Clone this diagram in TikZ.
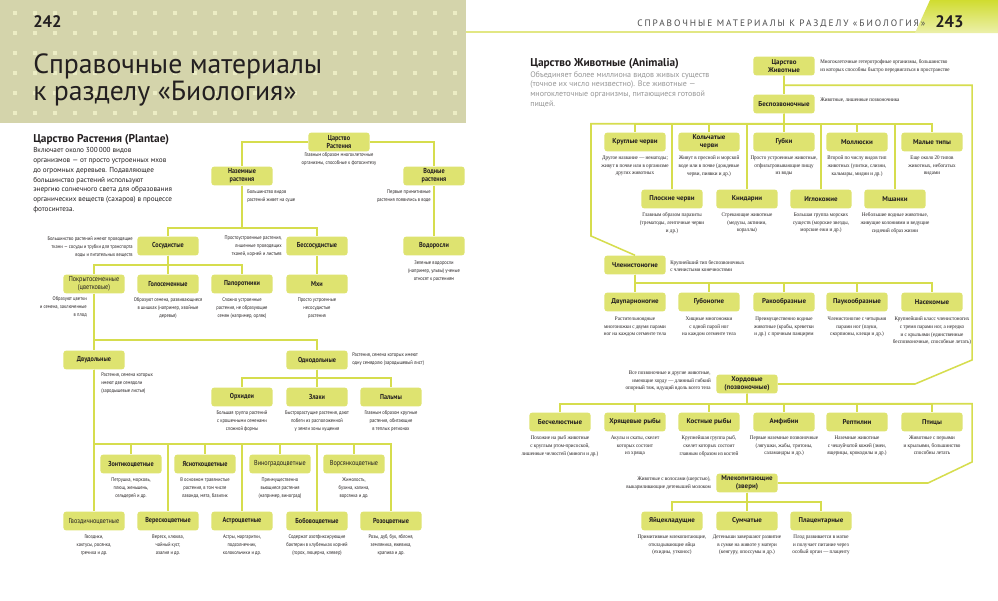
\documentclass[tikz,border=0pt]{standalone}
\usepackage{fontspec}
\setmainfont{PT Sans}
\newfontfamily\narrowsans[FakeStretch=0.86]{PT Sans}
\newfontfamily\narrowserif[FakeStretch=0.92]{Liberation Serif}
\newfontfamily\wideheader[LetterSpace=21]{PT Sans}
\definecolor{hdr}{RGB}{212,212,171}
\definecolor{dotc}{RGB}{236,237,196}
\definecolor{boxc}{RGB}{222,227,112}
\definecolor{linec}{RGB}{214,221,78}
\definecolor{txt}{RGB}{35,31,32}
\definecolor{grayt}{RGB}{150,150,150}
\definecolor{tabtop}{RGB}{208,220,48}
\definecolor{tabbot}{RGB}{236,240,170}
\tikzset{
  bx/.style={rounded corners=2.3pt, fill=boxc, minimum width=46pt, minimum height=14.2pt, inner sep=0.5pt, align=center, text=txt, font=\bfseries\fontsize{5.2}{6.1}\selectfont},
  pb/.style={bx, font=\narrowsans\bfseries\fontsize{5.4}{6.1}\selectfont},
  pbl/.style={bx, font=\narrowsans\fontsize{5.4}{6.1}\selectfont},
  ds/.style={inner sep=0pt, align=center, text=txt, font=\narrowsans\fontsize{3.95}{5.9}\selectfont},
  dr/.style={inner sep=0pt, align=center, text=txt, font=\narrowserif\fontsize{4.15}{5.8}\selectfont},
  ln/.style={draw=linec, line width=1.15pt},
}
\begin{document}
\begin{tikzpicture}[x=0.75pt,y=-0.75pt]
\useasboundingbox (0,0) rectangle (998,600);
\fill[white] (0,0) rectangle (998,600);
% ---------- header left
\fill[hdr] (0,0) rectangle (466,123);
\foreach \i in {0,...,22} \foreach \j in {0,...,5}
  \fill[dotc] ({15+20*\i-2},{13+20*\j-2}) rectangle ++(4,4);
\node[anchor=base west, inner sep=0, font=\bfseries\fontsize{12.5}{14}\selectfont, text=txt] (p242) at (33,27) {242};
\node[anchor=base west, inner sep=0, font=\fontsize{20.8}{24}\selectfont, text=txt] (t1) at (33,73) {Справочные материалы};
\node[anchor=base west, inner sep=0, font=\fontsize{20.8}{24}\selectfont, text=txt] (t2) at (33,100) {к разделу «Биология»};
% ---------- header right
\draw[linec!70, line width=0.8pt] (466,32) -- (918,32);
\shade[top color=tabtop, bottom color=tabbot] (930,0) -- (998,0) -- (998,33) -- (915,33) -- cycle;
\node[anchor=base west, inner sep=0, font=\wideheader\fontsize{7}{8}\selectfont, text=black!70] (hdrtxt) at (637,26.5) {СПРАВОЧНЫЕ МАТЕРИАЛЫ К РАЗДЕЛУ «БИОЛОГИЯ»};
\node[anchor=base west, inner sep=0, font=\bfseries\fontsize{12.5}{14}\selectfont, text=txt] (p243) at (935,27) {243};
% ---------- left intro
\node[anchor=base west, inner sep=0, font=\bfseries\fontsize{8.5}{10}\selectfont, text=txt] (ptitle) at (33,142) {Царство Растения (Plantae)};
\node[anchor=north west, inner sep=0, align=left, font=\fontsize{5.4}{7.3}\selectfont, text=txt] (ptxt) at (33,147.5) {Включает около 300\,000 видов\\организмов — от просто устроенных мхов\\до огромных деревьев. Подавляющее\\большинство растений используют\\энергию солнечного света для образования\\органических веществ (сахаров) в процессе\\фотосинтеза.};
% ---------- right intro
\node[anchor=base west, inner sep=0, font=\bfseries\fontsize{8.5}{10}\selectfont, text=txt] (atitle) at (530,66) {Царство Животные (Animalia)};
\node[anchor=north west, inner sep=0, align=left, font=\fontsize{6}{7.3}\selectfont, text=grayt] (atxt) at (530,71) {Объединяет более миллиона видов живых существ\\(точное их число неизвестно). Все животные —\\многоклеточные организмы, питающиеся готовой\\пищей.};
% ---------- plant boxes
\node[pb] (tsr) at (339,142) {Царство\\Растения};
\node[pb] (naz) at (242,176) {Наземные\\растения};
\node[pb] (vod) at (434,176) {Водные\\растения};
\node[pb] (alg) at (434,246) {Водоросли};
\node[pb] (sos) at (168,246) {Сосудистые};
\node[pb] (bess) at (317,246) {Бессосудистые};
\node[pb] (mhi) at (317,284) {Мхи};
\node[pbl] (pokr) at (94,284) {Покрытосеменные\\(цветковые)};
\node[pb] (gol) at (168,284) {Голосеменные};
\node[pb] (pap) at (242,284) {Папоротники};
\node[pb] (dvu) at (94,360) {Двудольные};
\node[pb] (odn) at (317,360) {Однодольные};
\node[pb] (orh) at (242,397) {Орхидеи};
\node[pb] (zlak) at (317,397) {Злаки};
\node[pb] (palm) at (391,397) {Пальмы};
\node[pb] (zont) at (131,464) {Зонтикоцветные};
\node[pb] (yasn) at (205,464) {Ясноткоцветные};
\node[pbl] (vin) at (280,464) {Виноградоцветные};
\node[pbl] (vors) at (354,464) {Ворсянкоцветные};
\node[pbl] (gvoz) at (94,521) {Гвоздичноцветные};
\node[pb] (ver) at (168,521) {Верескоцветные};
\node[pb] (astr) at (242,521) {Астроцветные};
\node[pb] (bob) at (317,521) {Бобовоцветные};
\node[pb] (roz) at (391,521) {Розоцветные};
% plant texts
\node[ds, anchor=north] (d-tsr) at (339,152.5) {Главным образом многоклеточные\\организмы, способные к фотосинтезу};
\node[ds, anchor=north west, align=left] (d-naz) at (247,189.5) {Большинство видов\\растений живет на суше};
\node[ds, anchor=north east, align=right] (d-vod) at (431,189.5) {Первые примитивные\\растения появились в воде};
\node[ds, anchor=north] (d-alg) at (434,260.5) {Зеленые водоросли\\(например, ульвы) ученые\\относят к растениям};
\node[ds, anchor=east, align=right] (d-sos) at (133,247) {Большинство растений имеют проводящие\\ткани — сосуды и трубки для транспорта\\воды и питательных веществ};
\node[ds, anchor=east, align=right] (d-bess) at (282,246) {Простоустроенные растения,\\лишенные проводящих\\тканей, корней и листьев};
\node[ds, anchor=north] (d-mhi) at (317,297.5) {Просто устроенные\\несосудистые\\растения};
\node[ds, anchor=north east, align=right] (d-pokr) at (87,296.5) {Образуют цветки\\и семена, заключенные\\в плод};
\node[ds, anchor=north] (d-gol) at (168,297.5) {Образуют семена, развивающиеся\\в шишках (например, хвойные\\деревья)};
\node[ds, anchor=north] (d-pap) at (242,297.5) {Сложно устроенные\\растения, не образующие\\семян (например, орляк)};
\node[ds, anchor=north west, align=left] (d-dvu) at (101,372.5) {Растения, семена которых\\имеют две семядоли\\(зародышевые листья)};
\node[ds, anchor=west, align=left] (d-odn) at (352,359.5) {Растения, семена которых имеют\\одну семядолю (зародышевый лист)};
\node[ds, anchor=north] (d-orh) at (242,410.5) {Большая группа растений\\с крошечными семенами\\сложной формы};
\node[ds, anchor=north] (d-zlak) at (317,410.5) {Быстрорастущие растения, дают\\побеги из расположенной\\у земли зоны кущения};
\node[ds, anchor=north] (d-palm) at (391,410.5) {Главным образом крупные\\растения, обитающие\\в теплых регионах};
\node[ds, anchor=north] (d-zont) at (131,477.5) {Петрушка, морковь,\\плющ, женьшень,\\сельдерей и др.};
\node[ds, anchor=north] (d-yasn) at (205,477.5) {В основном травянистые\\растения, в том числе\\лаванда, мята, базилик};
\node[ds, anchor=north] (d-vin) at (280,477.5) {Преимущественно\\вьющиеся растения\\(например, виноград)};
\node[ds, anchor=north] (d-vors) at (354,477.5) {Жимолость,\\бузина, калина,\\ворсянка и др.};
\node[ds, anchor=north] (d-gvoz) at (94,534.5) {Гвоздики,\\кактусы, росянка,\\гречиха и др.};
\node[ds, anchor=north] (d-ver) at (168,534.5) {Вереск, клюква,\\чайный куст,\\азалия и др.};
\node[ds, anchor=north] (d-astr) at (242,534.5) {Астры, маргаритки,\\подсолнечник,\\колокольчики и др.};
\node[ds, anchor=north] (d-bob) at (317,534.5) {Содержат азотфиксирующие\\бактерии в клубеньках корней\\(горох, люцерна, клевер)};
\node[ds, anchor=north] (d-roz) at (391,534.5) {Розы, дуб, бук, яблоня,\\земляника, ежевика,\\крапива и др.};
% plant connectors
\draw[ln] (tsr.west) -| (naz.north);
\draw[ln] (tsr.east) -| (vod.north);
\draw[ln] (vod.south) -- (alg.north);
\draw[ln] (naz.south) -- ++(0,42) -| (sos.north);
\draw[ln] (naz.south) -- ++(0,42) -| (bess.north);
\draw[ln] (bess.south) -- (mhi.north);
\draw[ln] (sos.south) -- ++(0,9) -| (pokr.north);
\draw[ln] (sos.south) -- (gol.north);
\draw[ln] (sos.south) -- ++(0,9) -| (pap.north);
\draw[ln] (pokr.south) -- (dvu.north);
\draw[ln] (pokr.south) -- ++(0,46) -| (odn.north);
\draw[ln] (odn.south) -- ++(0,8) -| (orh.north);
\draw[ln] (odn.south) -- (zlak.north);
\draw[ln] (odn.south) -- ++(0,8) -| (palm.north);
\draw[ln] (dvu.south) -- (gvoz.north);
\foreach \c in {zont,yasn,vin,vors,ver,astr,bob,roz}
  \draw[ln] (dvu.south) -- ++(0,74) -| (\c.north);
% ---------- animal boxes
\node[bx] (zh) at (784,66) {Царство\\Животные};
\node[bx] (bes) at (784,104) {Беспозвоночные};
\node[bx] (krug) at (635,142) {Круглые черви};
\node[bx] (kol) at (709,142) {Кольчатые\\черви};
\node[bx] (gub) at (784,142) {Губки};
\node[bx] (mol) at (857,142) {Моллюски};
\node[bx] (mal) at (932,142) {Малые типы};
\node[bx] (plos) at (672,199) {Плоские черви};
\node[bx] (knid) at (747,199) {Книдарии};
\node[bx] (igl) at (821,199) {Иглокожие};
\node[bx] (msh) at (895,199) {Мшанки};
\node[bx] (chl) at (635,265) {Членистоногие};
\node[bx] (dvup) at (635,302) {Двупарноногие};
\node[bx] (gubn) at (709,302) {Губоногие};
\node[bx] (rak) at (784,302) {Ракообразные};
\node[bx] (pauk) at (857,302) {Паукообразные};
\node[bx] (nas) at (932,302) {Насекомые};
\node[bx] (hord) at (747,384) {Хордовые\\(позвоночные)};
\node[bx] (besch) at (560,422) {Бесчелюстные};
\node[bx] (hrya) at (635,422) {Хрящевые рыбы};
\node[bx] (kost) at (709,422) {Костные рыбы};
\node[bx] (amf) at (784,422) {Амфибии};
\node[bx] (rept) at (857,422) {Рептилии};
\node[bx] (ptic) at (932,422) {Птицы};
\node[bx] (mlek) at (747,483) {Млекопитающие\\(звери)};
\node[bx] (yai) at (672,521) {Яйцекладущие};
\node[bx] (sum) at (747,521) {Сумчатые};
\node[bx] (plac) at (821,521) {Плацентарные};
% animal texts
\node[dr, anchor=west, align=left] (d-zh) at (820,66) {Многоклеточные гетеротрофные организмы, большинство\\из которых способны быстро передвигаться в пространстве};
\node[dr, anchor=west, align=left] (d-bes) at (820,100) {Животные, лишенные позвоночника};
\node[dr, anchor=north] (d-krug) at (635,155.5) {Другое название — нематоды;\\живут в почве или в организме\\других животных};
\node[dr, anchor=north] (d-kol) at (709,155.5) {Живут в пресной и морской\\воде или в почве (дождевые\\черви, пиявки и др.)};
\node[dr, anchor=north] (d-gub) at (784,155.5) {Просто устроенные животные,\\отфильтровывающие пищу\\из воды};
\node[dr, anchor=north] (d-mol) at (857,155.5) {Второй по числу видов тип\\животных (улитки, слизни,\\кальмары, мидии и др.)};
\node[dr, anchor=north] (d-mal) at (932,155.5) {Еще около 20 типов\\животных, небогатых\\видами};
\node[dr, anchor=north] (d-plos) at (672,212.5) {Главным образом паразиты\\(трематоды, ленточные черви\\и др.)};
\node[dr, anchor=north] (d-knid) at (747,212.5) {Стрекающие животные\\(медузы, актинии,\\кораллы)};
\node[dr, anchor=north] (d-igl) at (821,212.5) {Большая группа морских\\существ (морские звезды,\\морские ежи и др.)};
\node[dr, anchor=north] (d-msh) at (895,212.5) {Небольшие водные животные,\\живущие колониями и ведущие\\сидячий образ жизни};
\node[dr, anchor=west, align=left] (d-chl) at (670,266) {Крупнейший тип беспозвоночных\\с членистыми конечностями};
\node[dr, anchor=north] (d-dvup) at (635,316.5) {Растительноядные\\многоножки с двумя парами\\ног на каждом сегменте тела};
\node[dr, anchor=north] (d-gubn) at (709,316.5) {Хищные многоножки\\с одной парой ног\\на каждом сегменте тела};
\node[dr, anchor=north] (d-rak) at (784,316.5) {Преимущественно водные\\животные (крабы, креветки\\и др.) с прочным панцирем};
\node[dr, anchor=north] (d-pauk) at (857,316.5) {Членистоногие с четырьмя\\парами ног (пауки,\\скорпионы, клещи и др.)};
\node[dr, anchor=north] (d-nas) at (932,316.5) {Крупнейший класс членистоногих\\с тремя парами ног, а нередко\\и с крыльями (единственные\\беспозвоночные, способные летать)};
\node[dr, anchor=east, align=right] (d-hord) at (711,381) {Все позвоночные и другие животные,\\имеющие хорду — длинный гибкий\\опорный тяж, идущий вдоль всего тела};
\node[dr, anchor=north] (d-besch) at (560,435.5) {Похожие на рыб животные\\с круглым ртом-присоской,\\лишенные челюстей (миноги и др.)};
\node[dr, anchor=north] (d-hrya) at (635,435.5) {Акулы и скаты, скелет\\которых состоит\\из хряща};
\node[dr, anchor=north] (d-kost) at (709,435.5) {Крупнейшая группа рыб,\\скелет которых состоит\\главным образом из костей};
\node[dr, anchor=north] (d-amf) at (784,435.5) {Первые наземные позвоночные\\(лягушки, жабы, тритоны,\\саламандры и др.)};
\node[dr, anchor=north] (d-rept) at (857,435.5) {Наземные животные\\с чешуйчатой кожей (змеи,\\ящерицы, крокодилы и др.)};
\node[dr, anchor=north] (d-ptic) at (932,435.5) {Животные с перьями\\и крыльями, большинство\\способны летать};
\node[dr, anchor=east, align=right] (d-mlek) at (711,483) {Животные с волосами (шерстью),\\выкармливающие детенышей молоком};
\node[dr, anchor=north] (d-yai) at (672,534.5) {Примитивные млекопитающие,\\откладывающие яйца\\(ехидны, утконос)};
\node[dr, anchor=north] (d-sum) at (747,534.5) {Детеныши завершают развитие\\в сумке на животе у матери\\(кенгуру, опоссумы и др.)};
\node[dr, anchor=north] (d-plac) at (821,534.5) {Плод развивается в матке\\и получает питание через\\особый орган — плаценту};
% animal connectors
\coordinate (fr1) at (972,360);
\coordinate (fr2) at (915,384);
\coordinate (fl1) at (591,236);
\coordinate (fr3) at (972,462);
\coordinate (fr4) at (928,483);
\draw[ln] (zh.south) -- (bes.north);
\draw[ln] (zh.south) -- ++(0,9.5) -| (fr1) -- (fr2) -- (hord.east);
\draw[ln] (bes.south) -- ++(0,10) -| (fl1) -- (chl.north);
\foreach \c in {krug,plos,kol,knid,gub,igl,mol,msh,mal}
  \draw[ln] (bes.south) -- ++(0,10) -| (\c.north);
\foreach \c in {dvup,gubn,rak,pauk,nas}
  \draw[ln] (chl.south) -- ++(0,8.5) -| (\c.north);
\draw[ln] (hord.south) -- ++(0,10) -| (fr3) -- (fr4) -- (mlek.east);
\foreach \c in {besch,hrya,kost,amf,rept,ptic}
  \draw[ln] (hord.south) -- ++(0,10) -| (\c.north);
\foreach \c in {yai,sum,plac}
  \draw[ln] (mlek.south) -- ++(0,9) -| (\c.north);
\end{tikzpicture}
\end{document}
